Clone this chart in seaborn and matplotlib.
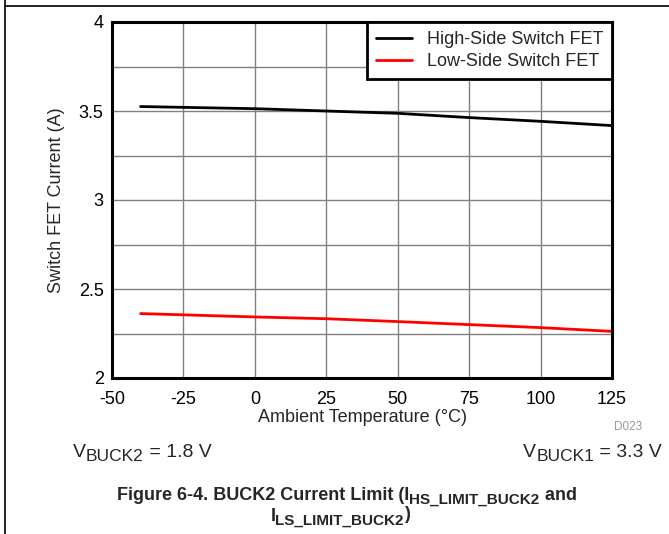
import matplotlib
matplotlib.use('Agg')
import matplotlib.pyplot as plt
import seaborn as sns
import pandas as pd
from matplotlib.lines import Line2D
from matplotlib.ticker import MultipleLocator

temperatura = [-40, 0, 25, 50, 75, 100, 125]
hs_corrente = [3.525, 3.513, 3.500, 3.487, 3.463, 3.442, 3.418]
ls_corrente = [2.362, 2.343, 2.333, 2.317, 2.300, 2.283, 2.262]
series = ['High-Side Switch FET', 'Low-Side Switch FET']
cores = ['black', '#ff0000']
y_ticks = [2, 2.5, 3, 3.5, 4]
y_labels = ['2', '2.5', '3', '3.5', '4']

df = pd.DataFrame({
    'temp': temperatura * 2,
    'corrente': hs_corrente + ls_corrente,
    'serie': [series[0]] * len(temperatura) + [series[1]] * len(temperatura),
})

sns.set_style('white')
plt.rcParams['font.family'] = ['Liberation Sans', 'DejaVu Sans']
plt.rcParams['axes.unicode_minus'] = False

W, H = 669, 534
fig = plt.figure(figsize=(W / 100, H / 100), dpi=100)
ax = fig.add_axes([112 / W, 1 - 378 / H, 500 / W, 356 / H])

sns.lineplot(data=df, x='temp', y='corrente', hue='serie', palette=cores,
             linewidth=2, ax=ax, legend=False)

ax.set_xlim(-50, 125)
ax.set_ylim(2, 4)
ax.xaxis.set_major_locator(MultipleLocator(25))
ax.yaxis.set_minor_locator(MultipleLocator(0.25))
ax.set_yticks(y_ticks)
ax.set_yticklabels(y_labels)
ax.grid(True, which='both', color='#808080', linewidth=1)
ax.tick_params(axis='both', which='both', length=0, labelsize=13, colors='black')
ax.tick_params(axis='x', pad=9)
ax.tick_params(axis='y', pad=6)
for s in ax.spines.values():
    s.set_color('black')
    s.set_linewidth(2.2)

ax.set_xlabel('Ambient Temperature (°C)', fontsize=13, labelpad=1)
ax.set_ylabel('Switch FET Current (A)', fontsize=13, labelpad=10)

handles = [Line2D([0], [0], color=c, linewidth=2) for c in cores]
leg = ax.legend(handles, series, loc='upper right', fontsize=13, frameon=True,
                fancybox=False, framealpha=1, borderaxespad=0, handlelength=2.0,
                borderpad=0.5, labelspacing=0.3, handletextpad=0.8)
leg.get_frame().set_edgecolor('black')
leg.get_frame().set_linewidth(2)

# moldura externa
fig.add_artist(Line2D([5 / W, 1], [1 - 6 / H, 1 - 6 / H], color='black', linewidth=1.2))
fig.add_artist(Line2D([5 / W, 5 / W], [0, 1], color='black', linewidth=1.2))

renderer = fig.canvas.get_renderer()


# texto com subscrito: pedaços (texto, tamanho, deslocamento vertical em px, peso)
def texto_rico(x, y, pedacos, ha='left'):
    objs, larguras = [], []
    for s, size, dy, weight in pedacos:
        t = fig.text(0, 0, s, fontsize=size, fontweight=weight, va='baseline')
        larguras.append(t.get_window_extent(renderer).width)
        objs.append(t)
    total = sum(larguras)
    if ha == 'right':
        pos = x - total
    elif ha == 'center':
        pos = x - total / 2
    else:
        pos = x
    for t, w, p in zip(objs, larguras, pedacos):
        t.set_position((pos / W, 1 - (y + p[2]) / H))
        pos += w


fig.text(642 / W, 1 - 427 / H, 'D023', fontsize=8.5, color='#999999', ha='right', va='center')
texto_rico(73, 457, [('V', 14, 0, 'normal'), ('BUCK2', 12.5, 4, 'normal'),
                     (' = 1.8 V', 14, 0, 'normal')])
texto_rico(662, 457, [('V', 14, 0, 'normal'), ('BUCK1', 12.5, 4, 'normal'),
                      (' = 3.3 V', 14, 0, 'normal')], ha='right')
texto_rico(347, 500, [('Figure 6-4. BUCK2 Current Limit (I', 13, 0, 'bold'),
                      ('HS_LIMIT_BUCK2', 11, 4, 'bold'), (' and', 13, 0, 'bold')],
           ha='center')
texto_rico(340, 521, [('I', 13, 0, 'bold'), ('LS_LIMIT_BUCK2', 11, 4, 'bold'),
                      (')', 13, -2, 'bold')], ha='center')

plt.savefig('out.png', dpi=100)
